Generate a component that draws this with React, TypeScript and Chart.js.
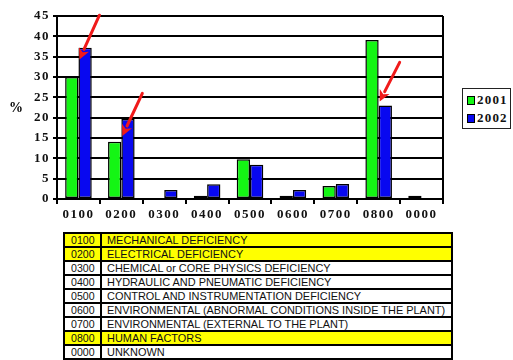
import React, { useEffect, useRef } from "react";
import { Chart, registerables } from "chart.js";

Chart.register(...registerables);

const categories = ["0100", "0200", "0300", "0400", "0500", "0600", "0700", "0800", "0000"];
const values2001 = [30.0, 14.1, 0, 0.8, 9.8, 0.8, 3.2, 39.1, 0.8];
const values2002 = [37.2, 19.7, 2.2, 3.6, 8.4, 2.2, 3.7, 23.0, 0];
const seriesNames = ["2001", "2002"];
const yTicks = [0, 5, 10, 15, 20, 25, 30, 35, 40, 45];

const arrowCategories = ["0100", "0200", "0800"];
const arrowTipValues = [34.3, 15.5, 24.0];
const arrowTailValues = [45.2, 26.0, 33.6];

const tableCodes = ["0100", "0200", "0300", "0400", "0500", "0600", "0700", "0800", "0000"];
const tableLabels = [
  "MECHANICAL DEFICIENCY",
  "ELECTRICAL DEFICIENCY",
  "CHEMICAL or CORE PHYSICS DEFICIENCY",
  "HYDRAULIC AND PNEUMATIC DEFICIENCY",
  "CONTROL AND INSTRUMENTATION DEFICIENCY",
  "ENVIRONMENTAL (ABNORMAL CONDITIONS INSIDE THE PLANT)",
  "ENVIRONMENTAL (EXTERNAL TO THE PLANT)",
  "HUMAN FACTORS",
  "UNKNOWN",
];
const tableHighlighted = [true, true, false, false, false, false, false, true, false];

const GREEN = "#14f514";
const BLUE = "#0808f0";
const SERIF = "Liberation Serif, Times New Roman, serif";

const extrasPlugin = {
  id: "extras",
  beforeDraw(chart: any) {
    try {
      chart.ctx.letterSpacing = "1.5px";
    } catch (e) {}
  },
  afterDraw(chart: any) {
    const ctx = chart.ctx;
    try {
      ctx.letterSpacing = "0px";
    } catch (e) {}
    const area = chart.chartArea;
    const yScale = chart.scales.y;
    ctx.save();
    ctx.strokeStyle = "#000";
    ctx.lineWidth = 2;
    ctx.beginPath();
    ctx.moveTo(area.right, area.top);
    ctx.lineTo(area.right, area.bottom);
    ctx.stroke();
    ctx.fillStyle = "#000";
    ctx.font = `bold 14px ${SERIF}`;
    ctx.textAlign = "center";
    ctx.textBaseline = "middle";
    ctx.fillText("%", 16, (area.top + area.bottom) / 2 + 1);
    const meta = chart.getDatasetMeta(1);
    ctx.strokeStyle = "#f01a1a";
    ctx.fillStyle = "#f01a1a";
    ctx.lineWidth = 3;
    ctx.lineCap = "round";
    arrowCategories.forEach((cat, i) => {
      const idx = categories.indexOf(cat);
      const el = meta.data[idx];
      if (!el) return;
      const tipX = el.x - el.width / 2 + 1;
      const tipY = yScale.getPixelForValue(arrowTipValues[i]);
      const tailX = tipX + 20;
      const tailY = yScale.getPixelForValue(arrowTailValues[i]);
      const ang = Math.atan2(tipY - tailY, tipX - tailX);
      const hl = 11;
      const hw = 5.5;
      const bx = tipX - hl * Math.cos(ang);
      const by = tipY - hl * Math.sin(ang);
      ctx.beginPath();
      ctx.moveTo(tailX, tailY);
      ctx.lineTo(bx, by);
      ctx.stroke();
      ctx.beginPath();
      ctx.moveTo(tipX, tipY);
      ctx.lineTo(bx + hw * Math.sin(ang), by - hw * Math.cos(ang));
      ctx.lineTo(tipX - (hl - 3) * Math.cos(ang), tipY - (hl - 3) * Math.sin(ang));
      ctx.lineTo(bx - hw * Math.sin(ang), by + hw * Math.cos(ang));
      ctx.closePath();
      ctx.fill();
    });
    ctx.restore();
  },
};

function BarChart() {
  const ref = useRef<HTMLCanvasElement>(null);
  useEffect(() => {
    const bw = (c: any) => (c.raw === 0 ? 0 : 1.5);
    const chart = new Chart(ref.current as HTMLCanvasElement, {
      type: "bar",
      data: {
        labels: categories,
        datasets: [
          {
            label: seriesNames[0],
            data: values2001,
            backgroundColor: GREEN,
            borderColor: "#000",
            borderWidth: bw,
            borderSkipped: false,
          },
          {
            label: seriesNames[1],
            data: values2002,
            backgroundColor: BLUE,
            borderColor: "#000",
            borderWidth: bw,
            borderSkipped: false,
          },
        ],
      },
      options: {
        animation: false,
        responsive: false,
        devicePixelRatio: 1,
        layout: { padding: { top: 16, right: 70, left: 0, bottom: 0 } },
        plugins: { legend: { display: false }, tooltip: { enabled: false } },
        datasets: { bar: { categoryPercentage: 0.62, barPercentage: 1 } },
        scales: {
          x: {
            grid: {
              offset: true,
              drawOnChartArea: false,
              drawTicks: true,
              tickLength: 5,
              color: "#000",
              lineWidth: 2,
            },
            border: { display: true, color: "#000", width: 2 },
            ticks: {
              color: "#111",
              font: { family: SERIF, size: 13, weight: "bold" },
              padding: 3,
              maxRotation: 0,
            },
            afterFit: (s: any) => {
              s.height = 29;
            },
          },
          y: {
            min: 0,
            max: 45,
            afterBuildTicks: (s: any) => {
              s.ticks = yTicks.map((v) => ({ value: v }));
            },
            grid: { color: "#000", lineWidth: 2, tickLength: 4 },
            border: { display: true, color: "#000", width: 2 },
            ticks: {
              color: "#111",
              font: { family: SERIF, size: 13, weight: "bold" },
              padding: 3,
            },
            afterFit: (s: any) => {
              s.width = 57;
            },
          },
        },
      },
      plugins: [extrasPlugin],
    } as any);
    return () => chart.destroy();
  }, []);
  return (
    <canvas
      ref={ref}
      width={513}
      height={228}
      style={{ position: "absolute", left: 0, top: 0, width: 513, height: 228 }}
    />
  );
}

function Legend() {
  const colors = [GREEN, BLUE];
  return (
    <div
      style={{
        position: "absolute",
        left: 462,
        top: 88,
        width: 47,
        height: 39,
        border: "1.5px solid #222",
        background: "#fff",
        fontFamily: SERIF,
        fontWeight: "bold",
        fontSize: 13,
        color: "#111",
      }}
    >
      {seriesNames.map((n, i) => (
        <div
          key={n}
          style={{
            position: "absolute",
            left: 4,
            top: 4 + i * 18,
            height: 14,
            display: "flex",
            alignItems: "center",
            whiteSpace: "nowrap",
            letterSpacing: 1.2,
          }}
        >
          <span
            style={{
              display: "inline-block",
              width: 6,
              height: 7,
              background: colors[i],
              border: "1px solid #000",
              marginRight: 2,
            }}
          />
          {n}
        </div>
      ))}
    </div>
  );
}

function CodeTable() {
  return (
    <table
      style={{
        position: "absolute",
        left: 63,
        top: 232,
        width: 390,
        borderCollapse: "collapse",
        border: "2px solid #000",
        fontFamily: "'Liberation Sans', Arial, sans-serif",
        fontSize: 11.5,
        color: "#111",
        tableLayout: "fixed",
      }}
    >
      <colgroup>
        <col style={{ width: 37 }} />
        <col />
      </colgroup>
      <tbody>
        {tableCodes.map((c, i) => {
          const bg = tableHighlighted[i] ? "#ffff00" : "#fff";
          const cell: React.CSSProperties = {
            border: "2px solid #000",
            padding: 0,
            height: 12,
            lineHeight: "12px",
            background: bg,
            whiteSpace: "nowrap",
            overflow: "hidden",
          };
          return (
            <tr key={c}>
              <td style={{ ...cell, textAlign: "center" }}>
                <span style={{ display: "inline-block", transform: "scaleX(0.92)" }}>{c}</span>
              </td>
              <td style={{ ...cell, paddingLeft: 5 }}>
                <span
                  style={{
                    display: "inline-block",
                    transform: "scaleX(0.95)",
                    transformOrigin: "left center",
                  }}
                >
                  {tableLabels[i]}
                </span>
              </td>
            </tr>
          );
        })}
      </tbody>
    </table>
  );
}

export default function App() {
  useEffect(() => {
    document.body.style.margin = "0";
  }, []);
  return (
    <div
      style={{
        position: "relative",
        width: 513,
        height: 360,
        overflow: "hidden",
        background: "#fff",
      }}
    >
      <BarChart />
      <Legend />
      <CodeTable />
    </div>
  );
}
